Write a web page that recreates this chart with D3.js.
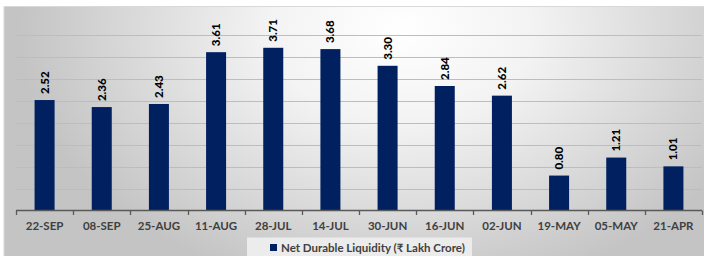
<!DOCTYPE html>
<html><head><meta charset="utf-8">
<script src="https://cdn.jsdelivr.net/npm/d3@7"></script>
<style>html,body{margin:0;padding:0;background:#fff;}svg{display:block;}</style>
</head><body>
<script>
const categories = ["22-SEP","08-SEP","25-AUG","11-AUG","28-JUL","14-JUL","30-JUN","16-JUN","02-JUN","19-MAY","05-MAY","21-APR"];
const values = [2.52,2.36,2.43,3.61,3.71,3.68,3.30,2.84,2.62,0.80,1.21,1.01];
const gridTicks = [0.5,1,1.5,2,2.5,3,3.5,4];
const seriesName = "Net Durable Liquidity (₹ Lakh Crore)";

const W = 704, H = 256;
const svg = d3.select("body").append("svg").attr("width", W).attr("height", H);
const defs = svg.append("defs");
const rg = defs.append("radialGradient").attr("id","bg").attr("gradientUnits","userSpaceOnUse")
  .attr("cx",400).attr("cy",30).attr("r",380).attr("gradientTransform","translate(400 30) scale(1 0.7) translate(-400 -30)");
rg.append("stop").attr("offset","0%").attr("stop-color","#ffffff");
rg.append("stop").attr("offset","35%").attr("stop-color","#f3f3f3");
rg.append("stop").attr("offset","100%").attr("stop-color","#c4c4c4");

svg.append("rect").attr("x",4).attr("y",6.5).attr("width",W).attr("height",H)
  .attr("fill","url(#bg)").attr("stroke","#d9d9d9").attr("stroke-width",1);

const x = d3.scaleBand().domain(categories).range([16, 702]).paddingInner(0.65).paddingOuter(0.325);
const y = d3.scaleLinear().domain([0, 4.5]).range([210.7, 13.1]);

// gridlines
svg.append("g").selectAll("line").data(gridTicks).join("line")
  .attr("x1",16).attr("x2",702).attr("y1",d=>Math.round(y(d))+0.5).attr("y2",d=>Math.round(y(d))+0.5)
  .attr("stroke","#bdbdbd").attr("stroke-width",1);

// bars
svg.append("g").selectAll("rect").data(values).join("rect")
  .attr("x",(d,i)=>x(categories[i])).attr("width",x.bandwidth())
  .attr("y",d=>y(d)).attr("height",d=>y(0)-y(d)).attr("fill","#002060");

// axis
const step = x.step();
const ax = svg.append("g");
ax.append("line").attr("x1",16).attr("x2",702).attr("y1",210.5).attr("y2",210.5).attr("stroke","#595959").attr("stroke-width",1.3);
const edges = d3.range(categories.length+1).map(i=>16+i*step);
ax.selectAll("line.t").data(edges).join("line").attr("class","t")
  .attr("x1",d=>Math.round(d)+0.5).attr("x2",d=>Math.round(d)+0.5).attr("y1",210.5).attr("y2",215)
  .attr("stroke","#595959").attr("stroke-width",1.3);
ax.selectAll("text").data(categories).join("text")
  .attr("x",d=>x(d)+x.bandwidth()/2).attr("y",229.5).attr("text-anchor","middle")
  .attr("font-family","Lato, 'Open Sans', sans-serif").attr("font-weight","bold").attr("font-size","11.5px")
  .attr("fill","#404040").text(d=>d);

// data labels
svg.append("g").selectAll("text").data(values).join("text")
  .attr("transform",(d,i)=>`translate(${x(categories[i])+x.bandwidth()/2+4},${y(d)-6}) rotate(-90)`)
  .attr("text-anchor","start")
  .attr("font-family","Lato, 'Open Sans', sans-serif").attr("font-weight","900").attr("font-size","11.5px")
  .attr("fill","#000").text(d=>d.toFixed(2));

// legend
const lg = svg.append("g");
lg.append("rect").attr("x",247).attr("y",237.5).attr("width",225).attr("height",20).attr("fill","#ececec");
lg.append("rect").attr("x",270).attr("y",244).attr("width",7).attr("height",7).attr("fill","#002060");
lg.append("text").attr("x",281).attr("y",251.5)
  .attr("font-family","Lato, 'Open Sans', sans-serif").attr("font-weight","bold").attr("font-size","11.5px")
  .attr("fill","#404040").text(seriesName);
</script>
</body></html>
